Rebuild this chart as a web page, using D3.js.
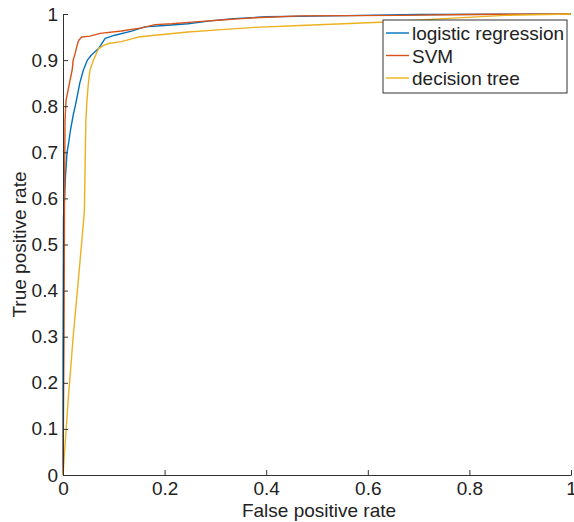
<!DOCTYPE html>
<html>
<head>
<meta charset="utf-8">
<script src="https://cdn.jsdelivr.net/npm/d3@7"></script>
<style>
  body { margin: 0; background: #fff; }
  text { font-family: "Liberation Sans", Arial, Helvetica, sans-serif; }
</style>
</head>
<body>
<svg id="chart" width="574" height="522"></svg>
<script>
// ---- data ----
const seriesNames = ["logistic regression", "SVM", "decision tree"];
const seriesColors = ["#0072BD", "#D95319", "#EDB120"];

const logisticFPR = [0, 0, 0.001, 0.003, 0.005, 0.008, 0.011, 0.015, 0.02, 0.026, 0.033, 0.04, 0.048, 0.056, 0.07, 0.083, 0.102, 0.135, 0.161, 0.2, 0.246, 0.29, 0.335, 0.4, 0.53, 0.7, 1];
const logisticTPR = [0, 0.25, 0.56, 0.6, 0.65, 0.7, 0.72, 0.75, 0.78, 0.81, 0.85, 0.878, 0.9, 0.911, 0.925, 0.947, 0.954, 0.963, 0.972, 0.975, 0.979, 0.985, 0.99, 0.994, 0.996, 0.999, 1];

const svmFPR = [0, 0.002, 0.003, 0.004, 0.006, 0.01, 0.014, 0.018, 0.02, 0.024, 0.028, 0.031, 0.037, 0.053, 0.073, 0.115, 0.155, 0.181, 0.214, 0.26, 0.312, 0.352, 0.378, 0.467, 0.663, 0.8, 1];
const svmTPR = [0, 0.3, 0.6, 0.77, 0.813, 0.835, 0.857, 0.878, 0.9, 0.915, 0.933, 0.943, 0.95, 0.952, 0.958, 0.963, 0.97, 0.977, 0.979, 0.983, 0.987, 0.99, 0.992, 0.996, 0.997, 0.999, 1];

const treeFPR = [0, 0.01, 0.02, 0.03, 0.042, 0.044, 0.045, 0.047, 0.05, 0.053, 0.06, 0.07, 0.08, 0.09, 0.115, 0.148, 0.181, 0.246, 0.312, 0.378, 0.467, 0.624, 0.75, 0.87, 1];
const treeTPR = [0, 0.16, 0.3, 0.42, 0.57, 0.7, 0.77, 0.81, 0.85, 0.878, 0.9, 0.925, 0.932, 0.936, 0.94, 0.95, 0.954, 0.961, 0.966, 0.971, 0.975, 0.982, 0.99, 0.997, 1];

const xTicks = [0, 0.2, 0.4, 0.6, 0.8, 1];
const xTickLabels = ["0", "0.2", "0.4", "0.6", "0.8", "1"];
const yTicks = [0, 0.1, 0.2, 0.3, 0.4, 0.5, 0.6, 0.7, 0.8, 0.9, 1];
const yTickLabels = ["0", "0.1", "0.2", "0.3", "0.4", "0.5", "0.6", "0.7", "0.8", "0.9", "1"];
const xLabel = "False positive rate";
const yLabel = "True positive rate";

// ---- layout ----
const svg = d3.select("#chart");
const mLeft = 63, mRight = 571, mTop = 14, mBottom = 475;
const axisColor = "#333";
const textColor = "#222";
const fontSize = 19;

const x = d3.scaleLinear().domain([0, 1]).range([mLeft, mRight]);
const y = d3.scaleLinear().domain([0, 1]).range([mBottom, mTop]);

const series = [
  { name: seriesNames[0], color: seriesColors[0], fpr: logisticFPR, tpr: logisticTPR },
  { name: seriesNames[1], color: seriesColors[1], fpr: svmFPR, tpr: svmTPR },
  { name: seriesNames[2], color: seriesColors[2], fpr: treeFPR, tpr: treeTPR }
];

const line = d3.line().x(d => x(d[0])).y(d => y(d[1]));

// curves
const gLines = svg.append("g");
series.forEach(s => {
  const pts = s.fpr.map((f, i) => [f, s.tpr[i]]);
  gLines.append("path")
    .attr("d", line(pts))
    .attr("fill", "none")
    .attr("stroke", s.color)
    .attr("stroke-width", 1.4)
    .attr("stroke-linejoin", "round");
});

// axes
const xAxis = d3.axisBottom(x)
  .tickValues(xTicks)
  .tickFormat((d, i) => xTickLabels[i])
  .tickSizeInner(-5).tickSizeOuter(0).tickPadding(7);
const yAxis = d3.axisLeft(y)
  .tickValues(yTicks)
  .tickFormat((d, i) => yTickLabels[i])
  .tickSizeInner(-5).tickSizeOuter(0).tickPadding(5);

const gx = svg.append("g").attr("transform", `translate(0,${mBottom})`).call(xAxis);
const gy = svg.append("g").attr("transform", `translate(${mLeft},0)`).call(yAxis);
[gx, gy].forEach(g => {
  g.select(".domain").attr("stroke", axisColor).attr("stroke-width", 1);
  g.selectAll(".tick line").attr("stroke", axisColor).attr("stroke-width", 1);
  g.selectAll(".tick text")
    .attr("fill", textColor)
    .style("font-size", fontSize + "px")
    .style("font-family", '"Liberation Sans", Arial, sans-serif');
});

// axis labels
svg.append("text")
  .attr("x", (mLeft + mRight) / 2 + 2)
  .attr("y", 517)
  .attr("text-anchor", "middle")
  .attr("fill", textColor)
  .style("font-size", fontSize + "px")
  .text(xLabel);

svg.append("text")
  .attr("transform", `translate(26,${(mTop + mBottom) / 2}) rotate(-90)`)
  .attr("text-anchor", "middle")
  .attr("fill", textColor)
  .style("font-size", fontSize + "px")
  .text(yLabel);

// legend
const lg = svg.append("g");
lg.append("rect")
  .attr("x", 383).attr("y", 20).attr("width", 184).attr("height", 73)
  .attr("fill", "#fff").attr("stroke", axisColor).attr("stroke-width", 1);
series.forEach((s, i) => {
  const cy = 33 + i * 22.5;
  lg.append("line")
    .attr("x1", 386).attr("x2", 409).attr("y1", cy).attr("y2", cy)
    .attr("stroke", s.color).attr("stroke-width", 1.4);
  lg.append("text")
    .attr("x", 412).attr("y", cy + 7)
    .attr("fill", textColor)
    .style("font-size", fontSize + "px")
    .text(s.name);
});
</script>
</body>
</html>
